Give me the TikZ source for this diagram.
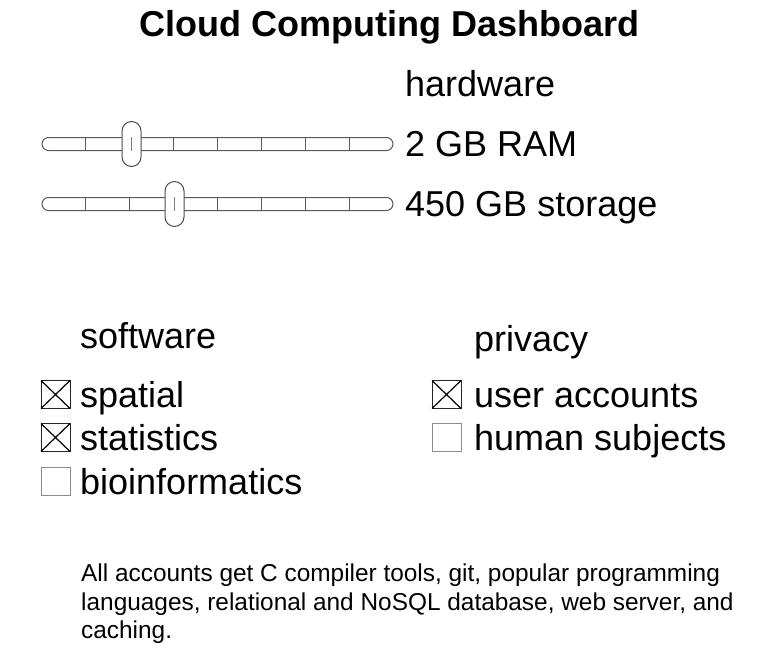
\documentclass[tikz,border=0pt]{standalone}
\usepackage{fontspec}
\setmainfont{Liberation Sans}
\begin{document}
\begin{tikzpicture}[x=1pt,y=-1pt,
  lbl/.style={anchor=base west,inner sep=0pt,font=\fontsize{36}{40}\selectfont},
  para/.style={anchor=base west,inner sep=0pt,font=\fontsize{24.4}{28}\selectfont},
  track/.style={draw=black!65,line width=1pt,rounded corners=6.5pt},
  tick/.style={draw=black!65,line width=1pt},
  knob/.style={draw=black!70,fill=white,line width=1pt,rounded corners=9.5pt},
  knobline/.style={draw=black!50,line width=0.9pt},
  onbox/.style={draw=black!85,line width=1pt},
  cross/.style={draw=black,line width=1.2pt},
  offbox/.style={draw=black!45,line width=1pt}]
\useasboundingbox (0,0) rectangle (759,650);
% title
\node[anchor=base,inner sep=0pt,font=\fontsize{36}{40}\selectfont\bfseries] (title) at (389.5,36.5) {Cloud Computing Dashboard};
% hardware
\node[lbl] (hw) at (405,96.5) {hardware};
\node[lbl] (ram) at (405,156.5) {2 GB RAM};
\node[lbl] (sto) at (405,216.5) {450 GB storage};
% slider 1
\draw[track] (42,137.5) rectangle (393,150.5);
\foreach \k in {1,...,7} \draw[tick] ({42+43.875*\k},137.5) -- ({42+43.875*\k},150.5);
\draw[knob] (122,121.5) rectangle (141,166.5);
\draw[knobline] (131.5,137) -- (131.5,151);
% slider 2
\draw[track] (42,197.5) rectangle (393,210.5);
\foreach \k in {1,...,7} \draw[tick] ({42+43.875*\k},197.5) -- ({42+43.875*\k},210.5);
\draw[knob] (165,181.5) rectangle (184,226.5);
\draw[knobline] (174.5,197) -- (174.5,211);
% software
\node[lbl] (sw) at (80,348.5) {software};
\draw[onbox] (41,380.5) rectangle (70,408.5);
\draw[cross] (41,380.5) -- (70,408.5) (41,408.5) -- (70,380.5);
\node[lbl] (sp) at (80,407) {spatial};
\draw[onbox] (41,423.5) rectangle (70,451.5);
\draw[cross] (41,423.5) -- (70,451.5) (41,451.5) -- (70,423.5);
\node[lbl] (st) at (80,450) {statistics};
\draw[offbox] (41,467) rectangle (70,495);
\node[lbl] (bio) at (80,494) {bioinformatics};
% privacy
\node[lbl] (pr) at (474,351) {privacy};
\draw[onbox] (432,380.5) rectangle (461,408.5);
\draw[cross] (432,380.5) -- (461,408.5) (432,408.5) -- (461,380.5);
\node[lbl] (ua) at (474,407) {user accounts};
\draw[offbox] (432,423.5) rectangle (461,451.5);
\node[lbl] (hs) at (474,450) {human subjects};
% paragraph
\node[para] (p1) at (81,581.5) {All accounts get C compiler tools, git, popular programming};
\node[para] (p2) at (81,610) {languages, relational and NoSQL database, web server, and};
\node[para] (p3) at (81,638) {caching.};
\end{tikzpicture}
\end{document}
